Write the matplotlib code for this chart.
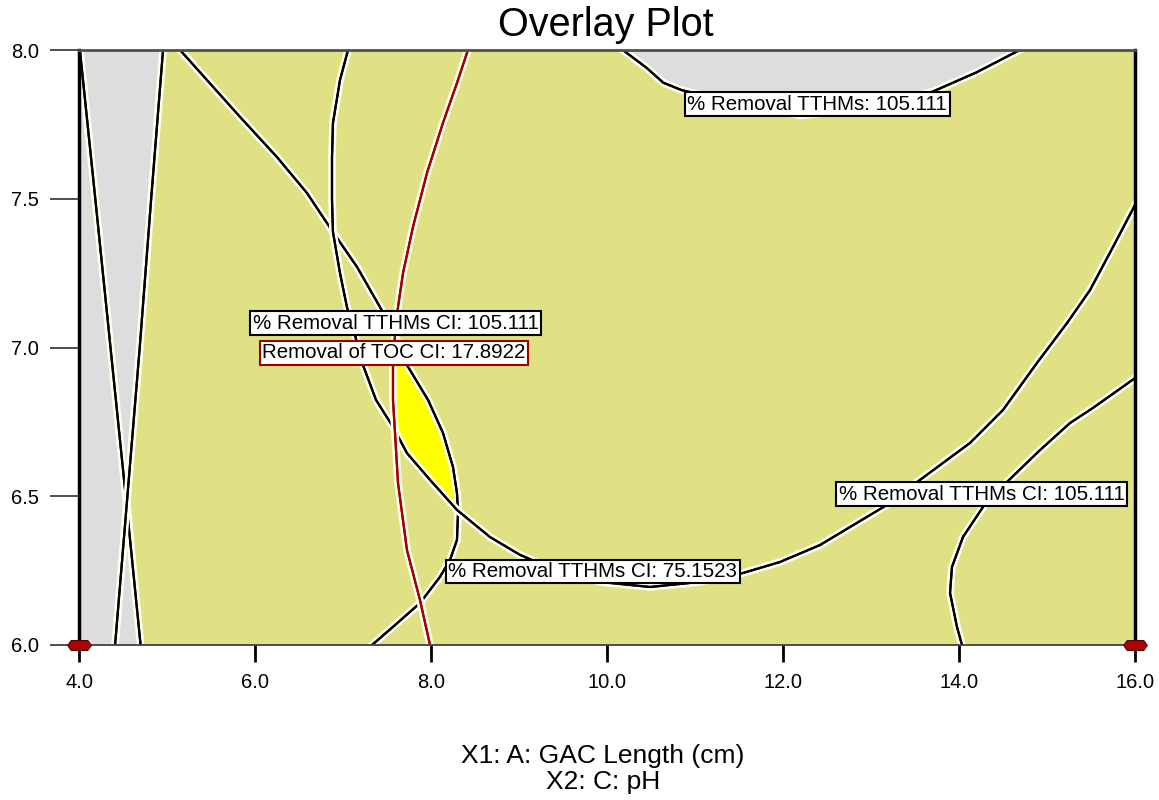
"""Overlay plot: GAC length vs pH with contour constraints."""

import matplotlib

matplotlib.use('Agg')
import matplotlib.pyplot as plt
import matplotlib.patheffects as pe
import numpy as np
from matplotlib.path import Path

plt.rcParams['font.family'] = ['Liberation Sans', 'DejaVu Sans']

# --- contour lines (x = GAC length cm, y = pH) ---

# two crossing lines bounding the grey strip at the left edge
strip_y = np.array([8.0, 7.5, 7.0, 6.5, 6.0])
strip_a_x = np.array([4.01, 4.185, 4.358, 4.531, 4.70])
strip_b_x = np.array([4.955, 4.82, 4.69, 4.55, 4.41])

# % Removal TTHMs: 105.111 (top grey region)
tthm_x = np.array([10.18, 10.45, 10.64, 10.85, 11.5, 12.2, 12.9, 13.7, 14.2, 14.69])
tthm_y = np.array([8.0, 7.94, 7.89, 7.865, 7.82, 7.78, 7.80, 7.86, 7.925, 8.0])

# % Removal TTHMs CI: 105.111 (left curve)
ci105_left_x = np.array([5.148, 5.830, 6.250, 6.591, 6.886, 7.159, 7.420, 7.568, 7.727,
                         7.966, 8.136, 8.250, 8.295, 8.307, 8.295, 8.216, 8.102, 7.875,
                         7.568, 7.330])
ci105_left_y = np.array([8.0, 7.775, 7.640, 7.519, 7.388, 7.271, 7.136, 7.059, 6.941,
                         6.824, 6.713, 6.598, 6.511, 6.444, 6.353, 6.286, 6.229, 6.141,
                         6.061, 6.0])

# % Removal TTHMs CI: 75.1523
ci75_x = np.array([7.057, 6.966, 6.886, 6.875, 6.875, 6.886, 6.966, 7.045, 7.136, 7.227,
                   7.375, 7.568, 7.727, 7.989, 8.295, 8.670, 9.011, 9.466, 9.920, 10.489,
                   11.057, 11.545, 11.966, 12.420, 13.182, 13.557, 14.125, 14.500, 14.886,
                   15.227, 15.489, 15.750, 16.0])
ci75_y = np.array([8.0, 7.899, 7.755, 7.640, 7.496, 7.388, 7.250, 7.136, 7.042, 6.941,
                   6.824, 6.733, 6.645, 6.555, 6.454, 6.363, 6.303, 6.245, 6.212, 6.195,
                   6.212, 6.242, 6.279, 6.336, 6.471, 6.555, 6.679, 6.790, 6.948,
                   7.082, 7.193, 7.338, 7.479])

# % Removal TTHMs CI: 105.111 (right curve)
ci105_right_x = np.array([16.0, 15.523, 15.261, 14.920, 14.545, 14.273, 14.045, 13.920,
                          13.898, 13.977, 14.034])
ci105_right_y = np.array([6.897, 6.797, 6.746, 6.655, 6.548, 6.464, 6.363, 6.262,
                          6.175, 6.061, 6.0])

# Removal of TOC CI: 17.8922
toc_x = np.array([8.420, 8.295, 8.136, 7.955, 7.795, 7.682, 7.625, 7.591, 7.568, 7.568,
                  7.591, 7.625, 7.727, 7.875, 7.989])
toc_y = np.array([8.0, 7.889, 7.755, 7.587, 7.405, 7.250, 7.136, 7.042, 6.941, 6.824,
                  6.713, 6.545, 6.319, 6.151, 6.0])

# design points
design_x = [4.0, 16.0]
design_y = [6.0, 6.0]

labels = ['% Removal TTHMs: 105.111', '% Removal TTHMs CI: 105.111',
          'Removal of TOC CI: 17.8922', '% Removal TTHMs CI: 105.111',
          '% Removal TTHMs CI: 75.1523']
label_x = [12.39, 7.60, 7.58, 14.26, 9.84]
label_y = [7.818, 7.081, 6.983, 6.507, 6.247]
label_edge = ['black', 'black', '#9a0000', 'black', 'black']

PALE = '#e0e084'
GREY = '#dddddd'
HALO = [pe.withStroke(linewidth=5.5, foreground='#fffff0'), pe.Normal()]

fig = plt.figure(figsize=(11.59, 8), dpi=100)
ax = fig.add_axes([79 / 1159, 1 - 645 / 800, (1135 - 79) / 1159, 595 / 800])
ax.set_facecolor(PALE)
ax.set_xlim(4, 16)
ax.set_ylim(6, 8)

# grey (infeasible) regions
ax.fill_betweenx(strip_y, 4, np.maximum(strip_a_x, strip_b_x), color=GREY, zorder=1,
                 path_effects=[pe.withStroke(linewidth=4, foreground='#f8f8f0')])
ax.fill_between(tthm_x, tthm_y, 8.0, color=GREY, zorder=1)

# bright yellow sweet spot: bounded by TOC line, CI 75 curve and CI 105 curve
m_toc = (toc_y >= 6.73) & (toc_y <= 7.05)
m_75 = (ci75_y >= 6.45) & (ci75_y <= 6.74) & (ci75_x > 7.5) & (ci75_x < 8.4)
m_105 = (ci105_left_y >= 6.44) & (ci105_left_y <= 7.05) & (ci105_left_x > 7.5)
sweet_x = np.concatenate([toc_x[m_toc], ci75_x[m_75], ci105_left_x[m_105][::-1]])
sweet_y = np.concatenate([toc_y[m_toc], ci75_y[m_75], ci105_left_y[m_105][::-1]])
ax.fill(sweet_x, sweet_y, color='#ffff00', zorder=2)

# contour lines
for xs, ys in [(strip_a_x, strip_y), (strip_b_x, strip_y), (tthm_x, tthm_y),
               (ci105_left_x, ci105_left_y), (ci75_x, ci75_y),
               (ci105_right_x, ci105_right_y)]:
    ax.plot(xs, ys, color='black', lw=1.6, zorder=3, path_effects=HALO,
            solid_joinstyle='round')
ax.plot(toc_x, toc_y, color='#a00000', lw=1.6, zorder=3, path_effects=HALO,
        solid_joinstyle='round')

# labels
for txt, lx, ly, ec in zip(labels, label_x, label_y, label_edge):
    ax.text(lx, ly, txt, ha='center', va='center', fontsize=14.8, zorder=5,
            bbox=dict(boxstyle='square,pad=0.12', fc='white', ec=ec, lw=1.5))

# design point markers (flattened hexagon)
hex_marker = Path([(-1, 0), (-0.7, 0.42), (0.7, 0.42), (1, 0), (0.7, -0.42),
                   (-0.7, -0.42), (-1, 0)])
ax.plot(design_x, design_y, linestyle='none', marker=hex_marker, markersize=17,
        color='#b00000', markeredgecolor='#500000', markeredgewidth=0.8,
        clip_on=False, zorder=6)

# axes frame and ticks
for side, col, lw in [('left', 'black', 2.5), ('right', 'black', 2.5),
                      ('top', '#505050', 2.0), ('bottom', '#404040', 1.3)]:
    ax.spines[side].set_color(col)
    ax.spines[side].set_linewidth(lw)
    ax.spines[side].set_zorder(4)

ax.set_xticks([4, 6, 8, 10, 12, 14, 16])
ax.set_xticklabels(['4.0', '6.0', '8.0', '10.0', '12.0', '14.0', '16.0'])
ax.set_yticks([6.0, 6.5, 7.0, 7.5, 8.0])
ax.set_yticklabels(['6.0', '6.5', '7.0', '7.5', '8.0'])
ax.tick_params(axis='x', length=12, width=2, color='black', pad=8, labelsize=14.5)
ax.tick_params(axis='y', length=21, width=1.2, color='#303030', pad=8, labelsize=14.5)

fig.text(606 / 1159, 1 - 25 / 800, 'Overlay Plot', ha='center', va='center', fontsize=28.5)
fig.text(603 / 1159, 1 - 756 / 800, 'X1: A: GAC Length (cm)', ha='center', va='center',
         fontsize=19)
fig.text(603 / 1159, 1 - 782 / 800, 'X2: C: pH', ha='center', va='center', fontsize=19)

fig.savefig('out.png', dpi=100)
